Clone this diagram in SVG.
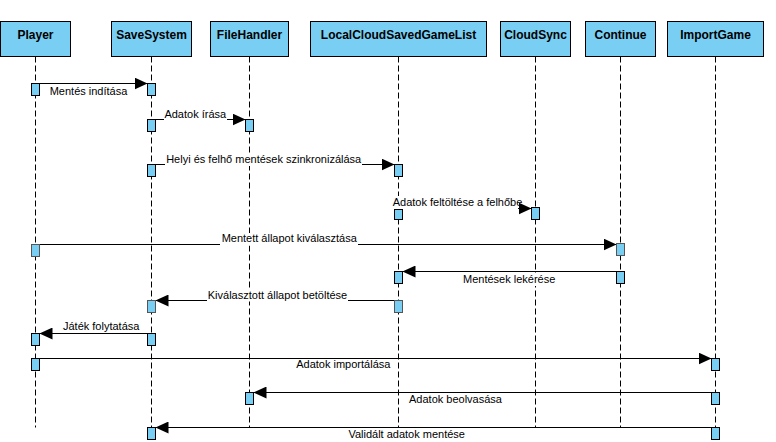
<svg xmlns="http://www.w3.org/2000/svg" width="776" height="442" viewBox="0 0 776 442">
<style>
.hd{fill:#79CFF3;stroke:#000;stroke-width:1}
.ht{font-family:"Liberation Sans",Arial,sans-serif;font-size:12px;font-weight:bold;fill:#000;text-anchor:middle}
.ll{stroke:#000;stroke-width:1;stroke-dasharray:6 3;fill:none}
.act{fill:#79CFF3;stroke:#000;stroke-width:1}
.actg{fill:#79CFF3;stroke:#555;stroke-width:1}
.msg{stroke:#000;stroke-width:1;fill:none;marker-end:url(#ah)}
.lb{font-family:"Liberation Sans",Arial,sans-serif;font-size:11px;fill:#000;text-anchor:middle}
.bg{fill:#fff;stroke:none}
</style>
<defs>
<marker id="ah" viewBox="0 0 13 12" refX="13" refY="6" markerWidth="13" markerHeight="12" markerUnits="userSpaceOnUse" orient="auto">
<path d="M0,0 L13,6 L0,12 Z" fill="#000"/>
</marker>
</defs>
<rect width="776" height="442" fill="#fff"/>

<g id="lifelines">
<line class="ll" x1="35.5" y1="56.5" x2="35.5" y2="427.5"/>
<line class="ll" x1="151.5" y1="56.5" x2="151.5" y2="427.5"/>
<line class="ll" x1="249.5" y1="56.5" x2="249.5" y2="427.5"/>
<line class="ll" x1="398.5" y1="56.5" x2="398.5" y2="427.5"/>
<line class="ll" x1="535.5" y1="56.5" x2="535.5" y2="427.5"/>
<line class="ll" x1="620.5" y1="56.5" x2="620.5" y2="427.5"/>
<line class="ll" x1="715.5" y1="56.5" x2="715.5" y2="427.5"/>
</g>

<g id="connectors">
<line class="msg" x1="39.5" y1="83.5" x2="147.5" y2="83.5"/>
<text class="lb" x="88.5" y="94.5">Mentés indítása</text>

<line class="msg" x1="155.5" y1="119.5" x2="245.5" y2="119.5"/>
<rect class="bg" x="164" y="108" width="63" height="13"/>
<text class="lb" x="195.3" y="118">Adatok írása</text>

<line class="msg" x1="155.5" y1="164.5" x2="394.5" y2="164.5"/>
<rect class="bg" x="165" y="153" width="197" height="13"/>
<text class="lb" x="263.7" y="163">Helyi és felhő mentések szinkronizálása</text>

<line class="msg" x1="402.5" y1="208.5" x2="531.5" y2="208.5"/>
<rect class="bg" x="392" y="196" width="126" height="13.5"/>
<text class="lb" x="457.5" y="205.7">Adatok feltöltése a felhőbe</text>

<line class="msg" x1="39.5" y1="244.5" x2="616.5" y2="244.5"/>
<rect class="bg" x="220" y="233" width="138" height="12.5"/>
<text class="lb" x="289.2" y="242">Mentett állapot kiválasztása</text>

<line class="msg" x1="616.5" y1="271.5" x2="402.5" y2="271.5"/>
<rect class="bg" x="462" y="273" width="94" height="13"/>
<text class="lb" x="509.2" y="283">Mentések lekérése</text>

<line class="msg" x1="394.5" y1="300.5" x2="155.5" y2="300.5"/>
<rect class="bg" x="207" y="289.5" width="141" height="12"/>
<text class="lb" x="277.5" y="299">Kiválasztott állapot betöltése</text>

<line class="msg" x1="147.5" y1="333.5" x2="39.5" y2="333.5"/>
<text class="lb" x="101.2" y="329.5">Játék folytatása</text>

<line class="msg" x1="39.5" y1="358.5" x2="711.5" y2="358.5"/>
<text class="lb" x="343.3" y="368">Adatok importálása</text>

<line class="msg" x1="711.5" y1="392.5" x2="253.5" y2="392.5"/>
<text class="lb" x="455.5" y="403">Adatok beolvasása</text>

<line class="msg" x1="711.5" y1="427.5" x2="155.5" y2="427.5"/>
<text class="lb" x="406.7" y="438">Validált adatok mentése</text>
</g>

<g id="Player">
<rect class="hd" x="0.5" y="21.5" width="70" height="35"/>
<text class="ht" x="35.5" y="38.7">Player</text>
<rect class="act" x="31.5" y="83.5" width="8" height="12"/>
<rect class="actg" x="31.5" y="244.5" width="8" height="12"/>
<rect class="act" x="31.5" y="333.5" width="8" height="12"/>
<rect class="act" x="31.5" y="358.5" width="8" height="12"/>
</g>

<g id="SaveSystem">
<rect class="hd" x="111.5" y="21.5" width="80" height="35"/>
<text class="ht" x="151.5" y="38.7">SaveSystem</text>
<rect class="act" x="147.5" y="83.5" width="8" height="12"/>
<rect class="act" x="147.5" y="119.5" width="8" height="12"/>
<rect class="act" x="147.5" y="164.5" width="8" height="12"/>
<rect class="actg" x="147.5" y="300.5" width="8" height="12"/>
<rect class="act" x="147.5" y="333.5" width="8" height="12"/>
<rect class="act" x="147.5" y="427.5" width="8" height="12"/>
</g>

<g id="FileHandler">
<rect class="hd" x="210.5" y="21.5" width="78" height="35"/>
<text class="ht" x="249.5" y="38.7">FileHandler</text>
<rect class="act" x="245.5" y="119.5" width="8" height="12"/>
<rect class="act" x="245.5" y="392.5" width="8" height="12"/>
</g>

<g id="LocalCloudSavedGameList">
<rect class="hd" x="310.5" y="21.5" width="176" height="35"/>
<text class="ht" x="398.5" y="38.7">LocalCloudSavedGameList</text>
<rect class="act" x="394.5" y="164.5" width="8" height="12"/>
<rect class="act" x="394.5" y="209.5" width="8" height="10"/>
<rect class="act" x="394.5" y="271.5" width="8" height="12"/>
<rect class="actg" x="394.5" y="300.5" width="8" height="12"/>
</g>

<g id="CloudSync">
<rect class="hd" x="500.5" y="21.5" width="70" height="35"/>
<text class="ht" x="535.5" y="38.7">CloudSync</text>
<rect class="act" x="531.5" y="207.5" width="8" height="12"/>
</g>

<g id="Continue">
<rect class="hd" x="585.5" y="21.5" width="70" height="35"/>
<text class="ht" x="620.5" y="38.7">Continue</text>
<rect class="actg" x="616.5" y="243.5" width="8" height="12"/>
<rect class="act" x="616.5" y="271.5" width="8" height="12"/>
</g>

<g id="ImportGame">
<rect class="hd" x="667.5" y="21.5" width="96" height="35"/>
<text class="ht" x="715.5" y="38.7">ImportGame</text>
<rect class="act" x="711.5" y="358.5" width="8" height="12"/>
<rect class="act" x="711.5" y="392.5" width="8" height="12"/>
<rect class="act" x="711.5" y="427.5" width="8" height="12"/>
</g>
</svg>
